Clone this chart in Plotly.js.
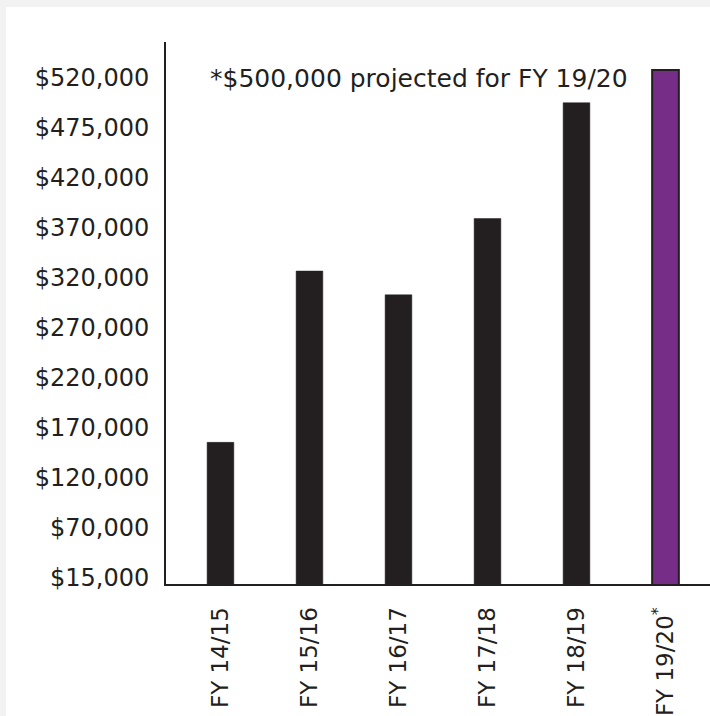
<!DOCTYPE html>
<html>
<head>
<meta charset="utf-8">
<script src="https://cdn.plot.ly/plotly-3.0.1.min.js"></script>
<style>
  html, body { margin: 0; padding: 0; background: #f2f2f2; }
  #chart { position: absolute; left: 6px; top: 7px; width: 704px; height: 709px; background: #ffffff; }
</style>
</head>
<body>
<div id="chart"></div>
<script>
// Categories and values (axis units: evenly spaced tick scale as drawn)
const categories = ["FY 14/15", "FY 15/16", "FY 16/17", "FY 17/18", "FY 18/19", "FY 19/20<sup>*</sup>"];
const values = [152000, 325000, 301000, 378000, 495000, 528000];
const barColors = ["#231f20", "#231f20", "#231f20", "#231f20", "#231f20", "#762d88"];
const tickVals = [15000, 65500, 116000, 166500, 217000, 267500, 318000, 368500, 419000, 469500, 520000];
const tickText = ["$15,000", "$70,000", "$120,000", "$170,000", "$220,000", "$270,000", "$320,000", "$370,000", "$420,000", "$475,000", "$520,000"];
const noteText = "*$500,000 projected for FY 19/20";

const FONT = "'DejaVu Sans', 'Noto Sans', sans-serif";
const INK = "#231f20";

const trace = {
  type: "bar",
  x: categories.map((c, i) => i),
  y: values,
  width: 0.3,
  marker: { color: barColors, line: { color: INK, width: [0.5, 0.5, 0.5, 0.5, 0.5, 2] } },
  hoverinfo: "none"
};

const layout = {
  width: 704, height: 709,
  margin: { l: 160, r: 0, t: 35, b: 132, pad: 0 },
  paper_bgcolor: "#ffffff", plot_bgcolor: "#ffffff",
  font: { family: FONT, color: INK, size: 24 },
  showlegend: false,
  bargap: 0,
  xaxis: {
    range: [-0.612, 5.5],
    tickmode: "array",
    tickvals: categories.map((c, i) => i),
    ticktext: categories,
    tickangle: -90,
    showline: true, linecolor: INK, linewidth: 2,
    showgrid: false, zeroline: false, ticks: "",
    ticklabelstandoff: 12,
    tickfont: { family: FONT, size: 23, color: INK },
    fixedrange: true
  },
  yaxis: {
    range: [8940, 556360],
    tickmode: "array",
    tickvals: tickVals,
    ticktext: tickText,
    showline: true, linecolor: INK, linewidth: 2,
    showgrid: false, zeroline: false, ticks: "",
    ticklabelstandoff: 10,
    tickfont: { family: FONT, size: 24, color: INK },
    fixedrange: true
  },
  annotations: [{
    text: noteText,
    xref: "x", yref: "y",
    x: -0.145, y: 520000,
    xanchor: "left", yanchor: "middle",
    showarrow: false,
    font: { family: FONT, size: 25, color: INK }
  }]
};

Plotly.newPlot("chart", [trace], layout, { displayModeBar: false, staticPlot: true });
</script>
</body>
</html>
